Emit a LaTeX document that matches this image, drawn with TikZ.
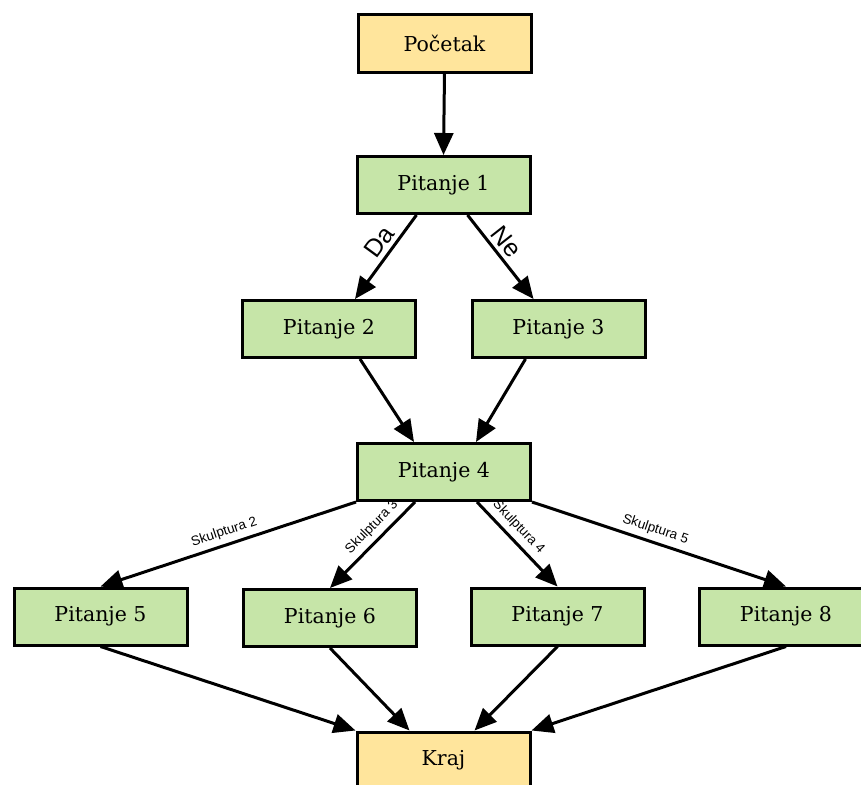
\documentclass[tikz,border=0pt]{standalone}
\usepackage{fontspec}
\usepackage{xcolor}
\usepackage{tikz}
\usetikzlibrary{arrows.meta,positioning}
\setmainfont{DejaVu Serif}
\newfontfamily\lblfont{Liberation Sans}
\definecolor{qgreen}{RGB}{198,229,168}
\definecolor{qyellow}{RGB}{255,229,156}

\begin{document}
\begin{tikzpicture}[x=1pt,y=-1pt,
                    line width=3pt,
                    qbox/.style={draw,fill=qgreen,rectangle,
                    minimum width=173pt,minimum height=57pt,
                    inner sep=0pt,font=\fontsize{20.5}{24}\selectfont},
                    endbox/.style={qbox,fill=qyellow},
                    arr/.style={-{Triangle[length=22pt,width=19pt]}},
                    lbl/.style={sloped,above,inner sep=4pt,font=\lblfont\fontsize{25}{28}\selectfont},
                    slbl/.style={sloped,above,inner sep=5pt,font=\lblfont\fontsize{13.5}{15}\selectfont}]
    \useasboundingbox (0,0) rectangle (861,784);
    \fill[white] (0,0) rectangle (861,784);
    \node[endbox](start) at (444.5,43.5) {Početak};
    \node[qbox](q1) at (443.5,185) {Pitanje 1};
    \node[qbox](q2) at (329,329) {Pitanje 2};
    \node[qbox](q3) at (558.5,329) {Pitanje 3};
    \node[qbox](q4) at (444,472) {Pitanje 4};
    \node[qbox](q5) at (100.5,616.5) {Pitanje 5};
    \node[qbox](q6) at (330,618) {Pitanje 6};
    \node[qbox](q7) at (557.5,616.5) {Pitanje 7};
    \node[qbox](q8) at (786,616.5) {Pitanje 8};
    \node[endbox](kraj) at (443.5,760.5) {Kraj};

    \draw[arr] (start.south) -- (q1.north);
    \draw[arr] ([xshift=-27pt]q1.south) -- node[lbl,pos=.42]{Da} ([xshift=26pt]q2.north);
    \draw[arr] ([xshift=24pt]q1.south) -- node[lbl,pos=.42]{Ne} ([xshift=-25pt]q3.north);
    \draw[arr] ([xshift=31pt]q2.south) -- ([xshift=-30pt]q4.north);
    \draw[arr] ([xshift=-33pt]q3.south) -- ([xshift=32pt]q4.north);

    \draw[arr] (q4.south west) -- node[slbl,pos=.5]{Skulptura 2} (q5.north);
    \draw[arr] ([xshift=-29pt]q4.south) -- node[slbl,pos=.4]{Skulptura 3} (q6.north);
    \draw[arr] ([xshift=33pt]q4.south) -- node[slbl,pos=.4]{Skulptura 4} (q7.north);
    \draw[arr] (q4.south east) -- node[slbl,pos=.47]{Skulptura 5} (q8.north);

    \draw[arr] (q5.south) -- (kraj.north west);
    \draw[arr] (q6.south) -- ([xshift=-34pt]kraj.north);
    \draw[arr] (q7.south) -- ([xshift=31pt]kraj.north);
    \draw[arr] (q8.south) -- (kraj.north east);
\end{tikzpicture}
\end{document}
